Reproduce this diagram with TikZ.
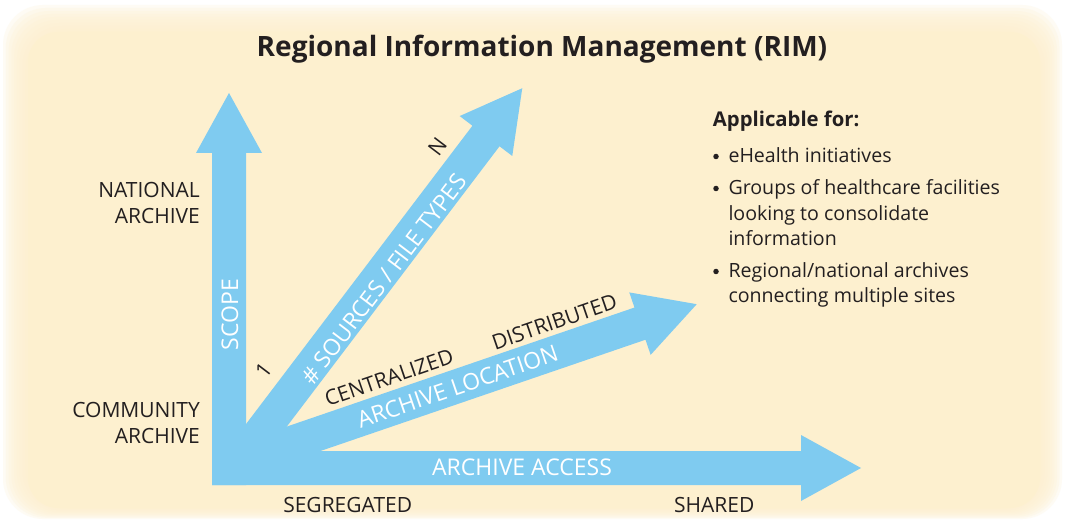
\documentclass[tikz,border=0pt]{standalone}
\usepackage{fontspec}
\setmainfont{Open Sans}
\definecolor{cream}{RGB}{253,240,207}
\definecolor{arrowblue}{RGB}{127,203,240}
\definecolor{txt}{RGB}{35,31,32}
\tikzset{
  lbl/.style={font=\fontsize{21}{24}\selectfont, text=txt, inner sep=0pt},
  wlbl/.style={font=\fontsize{23}{26}\selectfont, text=white, inner sep=0pt},
  bul/.style={font=\fontsize{19.6}{23}\selectfont, text=txt, inner sep=0pt, anchor=base west},
  dot/.style={circle, fill=txt, inner sep=0pt, minimum size=5.5pt},
}
\newcommand{\bigarr}[5]{% x, y, angle, length, tail
  \begin{scope}[shift={(#1,#2)},rotate=#3]
    \fill[arrowblue] (#5,-17) -- (#4-60,-17) -- (#4-60,-33) -- (#4,0) -- (#4-60,33) -- (#4-60,17) -- (#5,17) -- cycle;
  \end{scope}}
\begin{document}
\begin{tikzpicture}[x=1pt,y=1pt]
\useasboundingbox (0,0) rectangle (1065,-521);
\fill[white] (0,0) rectangle (1065,-521);
\foreach \i in {0,...,9} {
  \pgfmathsetmacro{\f}{\i/9}
  \fill[cream, opacity=0.22, rounded corners=40] ({3+25*\f},{-(5+27*\f)}) rectangle ({1062-22*\f},{-(519-11*\f)});
}
\fill[cream, rounded corners=30] (28,-32) rectangle (1040,-508);

% arrows
\bigarr{229}{-468}{90}{375}{-17}
\bigarr{229}{-468}{0}{632}{-17}
\bigarr{234}{-468}{52.8}{476.8}{0}
\bigarr{218.3}{-468}{18.9}{505.7}{0}

% title
\node[font=\fontsize{28}{32}\selectfont\bfseries, text=txt, inner sep=0pt, anchor=base] (title) at (542,-56.7) {Regional Information Management (RIM)};

% axis end labels
\node[lbl, anchor=base east] (nat1) at (200,-197.3) {NATIONAL};
\node[lbl, anchor=base east] (nat2) at (200,-223.3) {ARCHIVE};
\node[lbl, anchor=base east] (com1) at (200,-417.7) {COMMUNITY};
\node[lbl, anchor=base east] (com2) at (200,-443.3) {ARCHIVE};
\node[lbl, anchor=base] (seg) at (347.7,-512.3) {SEGREGATED};
\node[lbl, anchor=base] (shr) at (714.2,-512.3) {SHARED};

% arrow labels
\node[wlbl, rotate=90] (scope) at (230,-314.7) {SCOPE};
\node[wlbl] (acc) at (522,-467.5) {ARCHIVE ACCESS};
\node[wlbl, rotate=52.8] (src) at (384,-279) {\# SOURCES / FILE TYPES};
\node[wlbl, rotate=18.9] (loc) at (457.5,-386.5) {ARCHIVE LOCATION};
\node[lbl, rotate=52.8] (one) at (263.5,-370) {1};
\node[lbl, rotate=52.8] (nn) at (437.5,-146.5) {N};
\node[lbl, rotate=18.9] (cen) at (389,-377.5) {CENTRALIZED};
\node[lbl, rotate=18.9] (dis) at (554.5,-322) {DISTRIBUTED};

% applicable list
\node[bul, font=\fontsize{20.3}{24}\selectfont\bfseries] (app) at (712.7,-127) {Applicable for:};
\node[dot] (d1) at (716,-156.5) {};
\node[bul] (l1) at (728.3,-163) {eHealth initiatives};
\node[dot] (d2) at (716,-188.5) {};
\node[bul] (l2) at (728.3,-195) {Groups of healthcare facilities};
\node[bul] (l3) at (728.3,-220.5) {looking to consolidate};
\node[bul] (l4) at (728.3,-246) {information};
\node[dot] (d3) at (716,-271.5) {};
\node[bul] (l5) at (728.3,-278) {Regional/national archives};
\node[bul] (l6) at (728.3,-302) {connecting multiple sites};
\end{tikzpicture}
\end{document}
